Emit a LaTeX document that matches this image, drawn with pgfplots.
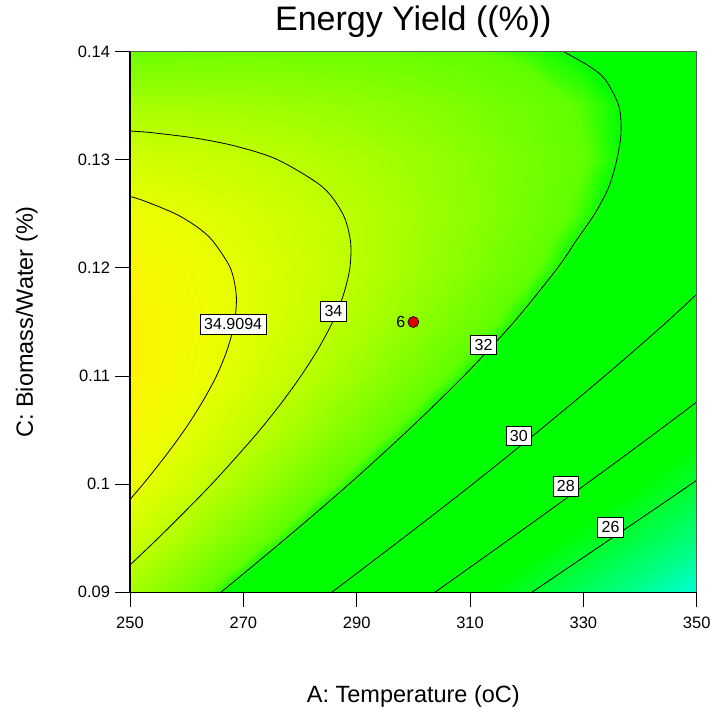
\documentclass[border=0pt]{standalone}
\usepackage{fontspec}
\setmainfont{Liberation Sans}
\usepackage{pgfplots}
\pgfplotsset{compat=1.18}
\begin{document}
\begin{tikzpicture}
\path[use as bounding box] (0,0) rectangle (715bp,-713bp);
\begin{axis}[
  at={(130bp,-51.7bp)}, anchor=north west,
  scale only axis, width=566.7bp, height=540.6bp,
  xmin=250, xmax=350, ymin=0.09, ymax=0.14,
  xtick={250,270,290,310,330,350},
  ytick={0.09,0.1,0.11,0.12,0.13,0.14},
  yticklabels={0.09,0.1,0.11,0.12,0.13,0.14},
  tick pos=left,
  tick align=outside, major tick length=15bp,
  tick style={black, line width=0.9bp},
  /pgf/number format/assume math mode=true,
  ticklabel style={font=\fontsize{16.5bp}{18bp}\selectfont},
  xticklabel style={yshift=-6bp},
  yticklabel style={xshift=-1.5bp},
  axis line style={draw=none},
  colormap={dx}{rgb255(0pt)=(0,255,230); rgb255(20pt)=(0,255,130); rgb255(40pt)=(0,255,45); rgb255(50pt)=(0,255,0); rgb255(99pt)=(0,255,0); rgb255(102pt)=(95,255,0); rgb255(112pt)=(148,255,0); rgb255(120pt)=(190,255,0); rgb255(130pt)=(235,255,0); rgb255(138pt)=(255,242,0); rgb255(140pt)=(255,225,0)},
  point meta min=22, point meta max=36,
  clip mode=individual,
  title={Energy Yield ((\%))},
  title style={at={(axis description cs:0.5,1.0278)}, anchor=base, font=\fontsize{34bp}{38bp}\selectfont},
  xlabel={A: Temperature (oC)},
  xlabel style={at={(axis description cs:0.5,-0.203)}, anchor=base, font=\fontsize{23.5bp}{26bp}\selectfont},
  ylabel={C: Biomass/Water (\%)},
  ylabel style={at={(axis description cs:-0.1712,0.5)}, anchor=base, font=\fontsize{23.5bp}{26bp}\selectfont},
]
\addplot[surf, shader=interp, mesh/cols=11, point meta=explicit] table[x=x, y=y, meta=z] {
x y z
250 0.09 33.525
260 0.09 32.585
270 0.09 31.605
280 0.09 30.587
290 0.09 29.527
300 0.09 28.427
310 0.09 27.287
320 0.09 26.107
330 0.09 24.889
340 0.09 23.629
350 0.09 22.329

250 0.095 34.410
260 0.095 33.571
270 0.095 32.691
280 0.095 31.773
290 0.095 30.813
300 0.095 29.814
310 0.095 28.775
320 0.095 27.695
330 0.095 26.577
340 0.095 25.417
350 0.095 24.218

250 0.1 35.075
260 0.1 34.336
270 0.1 33.557
280 0.1 32.739
290 0.1 31.880
300 0.1 30.981
310 0.1 30.042
320 0.1 29.063
330 0.1 28.045
340 0.1 26.986
350 0.1 25.887

250 0.105 35.520
260 0.105 34.881
270 0.105 34.202
280 0.105 33.484
290 0.105 32.726
300 0.105 31.927
310 0.105 31.088
320 0.105 30.210
330 0.105 29.292
340 0.105 28.333
350 0.105 27.334

250 0.11 35.745
260 0.11 35.206
270 0.11 34.628
280 0.11 34.011
290 0.11 33.352
300 0.11 32.654
310 0.11 31.916
320 0.11 31.137
330 0.11 30.320
340 0.11 29.462
350 0.11 28.563

250 0.115 35.749
260 0.115 35.311
270 0.115 34.833
280 0.115 34.316
290 0.115 33.758
300 0.115 33.160
310 0.115 32.522
320 0.115 31.844
330 0.115 31.127
340 0.115 30.369
350 0.115 29.571

250 0.12 35.533
260 0.12 35.196
270 0.12 34.818
280 0.12 34.401
290 0.12 33.944
300 0.12 33.446
310 0.12 32.908
320 0.12 32.331
330 0.12 31.714
340 0.12 31.056
350 0.12 30.359

250 0.125 35.097
260 0.125 34.860
270 0.125 34.583
280 0.125 34.267
290 0.125 33.909
300 0.125 33.512
310 0.125 33.075
320 0.125 32.597
330 0.125 32.081
340 0.125 31.524
350 0.125 30.927

250 0.13 34.441
260 0.13 34.304
270 0.13 34.127
280 0.13 33.911
290 0.13 33.654
300 0.13 33.357
310 0.13 33.020
320 0.13 32.643
330 0.13 32.227
340 0.13 31.770
350 0.13 31.273

250 0.135 33.564
260 0.135 33.527
270 0.135 33.451
280 0.135 33.335
290 0.135 33.179
300 0.135 32.982
310 0.135 32.745
320 0.135 32.469
330 0.135 32.153
340 0.135 31.797
350 0.135 31.400

250 0.14 32.467
260 0.14 32.531
270 0.14 32.555
280 0.14 32.539
290 0.14 32.483
300 0.14 32.387
310 0.14 32.251
320 0.14 32.075
330 0.14 31.859
340 0.14 31.603
350 0.14 31.307
};
% contour 34.9094
\addplot[black, line width=0.8bp, smooth] coordinates {
(248.2,0.0975) (252.3,0.1) (256.1,0.1025) (259.6,0.105) (262.65,0.1075) (265.25,0.11) (267.2,0.1125) (268.45,0.115) (268.75,0.1175) (267.7,0.12) (264.6,0.1225) (261.95,0.12375) (258.05,0.125) (252.25,0.12625) (249.05,0.12675)};
% contour 34
\addplot[black, line width=0.8bp, smooth] coordinates {
(244.8,0.09) (249.95,0.0925) (254.95,0.095) (259.75,0.0975) (264.4,0.1) (268.75,0.1025) (272.9,0.105) (276.7,0.1075) (280.15,0.11) (283.2,0.1125) (285.75,0.115) (287.65,0.1175) (288.8,0.12) (288.9,0.1225) (287.55,0.125) (283.95,0.1275) (276.1,0.13) (268.75,0.13125) (261.65,0.132) (254.05,0.1325) (251.2,0.132625) (247.55,0.13275)};
% contour 32
\addplot[black, line width=0.8bp, smooth] coordinates {
(266.05,0.09) (277.55,0.095) (288.65,0.1) (299.1,0.105) (308.9,0.11) (317.75,0.115) (325.45,0.12) (328.7,0.1225) (332,0.125) (334.5,0.1275) (335.9,0.13) (336.65,0.1325) (336.25,0.135) (333.75,0.1375) (330.75,0.13875) (326.5,0.14)};
% contour 30
\addplot[black, line width=0.8bp, smooth] coordinates {
(285.6,0.09) (298.15,0.095) (310.45,0.1) (322.3,0.105) (333.75,0.11) (344.7,0.115) (354.95,0.12)};
% contour 28
\addplot[black, line width=0.8bp, smooth] coordinates {
(303.8,0.09) (317.2,0.095) (330.45,0.1) (343.4,0.105) (356.05,0.11)};
% contour 26
\addplot[black, line width=0.8bp, smooth] coordinates {
(320.9,0.09) (335.0,0.095) (349.0,0.1) (362.8,0.105)};
% frame
\draw[gray!70!black, line width=1bp] (rel axis cs:0,1) -- (rel axis cs:1,1) -- (rel axis cs:1,0);
\draw[black, line width=1.1bp] (rel axis cs:0,1) -- (rel axis cs:0,0) -- (rel axis cs:1,0);
% contour labels
\tikzset{clab/.style={fill=white, draw=black, line width=0.6bp, inner xsep=4bp, inner ysep=4bp, font=\fontsize{16bp}{18bp}\selectfont}}
\node[clab] at (axis cs:268.2,0.1148) {34.9094};
\node[clab] at (axis cs:285.9,0.1160) {34};
\node[clab] at (axis cs:312.4,0.1129) {32};
\node[clab] at (axis cs:318.6,0.1045) {30};
\node[clab] at (axis cs:326.9,0.0998) {28};
\node[clab] at (axis cs:334.8,0.0960) {26};
% design point
\addplot[only marks, mark=*, mark size=5.5bp, mark options={fill=red!85!black, draw=black, line width=0.6bp}] coordinates {(300,0.115)};
\node[anchor=east, inner sep=0pt, font=\fontsize{16bp}{18bp}\selectfont] at ([xshift=-8bp]axis cs:300,0.115) {6};
\end{axis}
\end{tikzpicture}
\end{document}
